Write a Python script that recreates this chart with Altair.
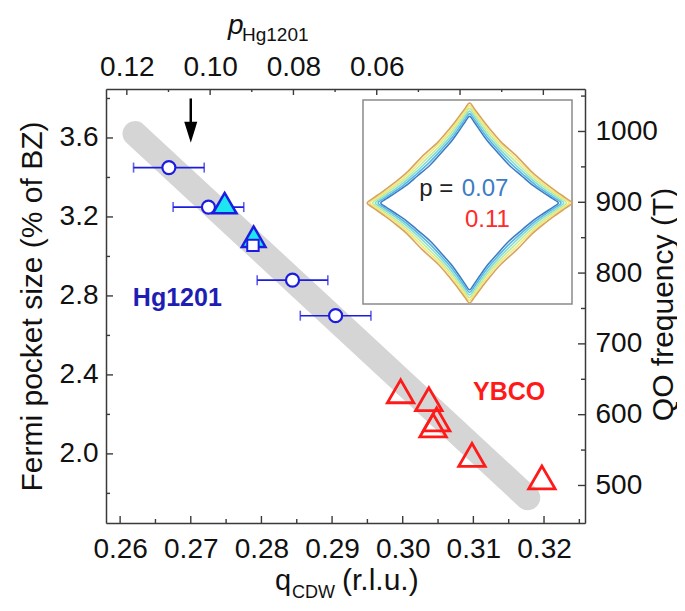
import altair as alt
import pandas as pd

# ---------------- data ----------------
hg_q = [0.2669, 0.2725, 0.2844, 0.2905]
hg_size = [3.45, 3.25, 2.88, 2.70]
hg_qerr = [0.005, 0.005, 0.005, 0.005]

hg_tri_q = [0.2748, 0.2789]
hg_tri_size = [3.27, 3.10]

hg_sq_q = [0.2788]
hg_sq_size = [3.056]

ybco_q = [0.2997, 0.3037, 0.3048, 0.3043, 0.3098, 0.3197]
ybco_size = [2.317, 2.277, 2.175, 2.144, 1.995, 1.881]

band_q = [0.2621, 0.3177]
band_size = [3.622, 1.778]

arrow_q = [0.27]
arrow_top = [3.80]
arrow_bottom = [3.665]
arrow_tip = [3.629]

q_major = [0.26, 0.27, 0.28, 0.29, 0.30, 0.31, 0.32]
q_minor = [0.265, 0.275, 0.285, 0.295, 0.305, 0.315, 0.325]
s_major = [2.0, 2.4, 2.8, 3.2, 3.6]
s_minor = [1.8, 2.2, 2.6, 3.0, 3.4, 3.8]
p_major = [0.12, 0.10, 0.08, 0.06, 0.04, 0.02]
p_minor = [0.11, 0.09, 0.07, 0.05, 0.03]
f_major = [500, 600, 700, 800, 900, 1000]
f_minor = [550, 650, 750, 850, 950, 1050]

q_domain = [0.2580, 0.3258]
size_domain = [1.650, 3.848]
p_domain = [0.010, 0.125]
freq_domain = [447, 1060]

# inset: Fermi-surface contours (upper-right half quadrant, tip -> diagonal)
curve_names = ["c1", "c2", "c3", "c4", "c5", "c6"]
curve_colors = ["#3d7cc4", "#58b4e3", "#80dcd6", "#bfeb9e", "#f1e86c", "#d9a35e"]
curve_u = [
    [0.0, 0.040, 0.100, 0.170, 0.260, 0.375],
    [0.0, 0.041, 0.102, 0.174, 0.268, 0.391],
    [0.0, 0.042, 0.104, 0.178, 0.276, 0.407],
    [0.0, 0.043, 0.106, 0.182, 0.284, 0.423],
    [0.0, 0.044, 0.108, 0.186, 0.292, 0.439],
    [0.0, 0.045, 0.110, 0.190, 0.300, 0.455],
]
curve_v = [
    [0.850, 0.800, 0.710, 0.610, 0.505, 0.375],
    [0.876, 0.825, 0.735, 0.634, 0.524, 0.391],
    [0.902, 0.850, 0.760, 0.658, 0.543, 0.407],
    [0.928, 0.875, 0.785, 0.682, 0.562, 0.423],
    [0.954, 0.900, 0.810, 0.706, 0.581, 0.439],
    [0.980, 0.925, 0.835, 0.730, 0.600, 0.455],
]
curve_center = [0.02, -0.01]

inset_box_u = [-1.0, 1.0]
inset_box_v = [-1.0, 1.0]
inset_u_domain = [-3.4593, 1.1244]
inset_v_domain = [-3.147, 1.1078]

# ---------------- styling ----------------
W, H = 479, 434
FONT = "Liberation Sans"
AX = "#3a3a3a"
TXT = "#111111"
BLUE = "#1c1ce0"
RED = "#ff1a1a"


def make_axis(orient, values, label_expr, pad, **kw):
    return alt.Axis(
        orient=orient, values=values, ticks=False, tickSize=0, grid=False,
        domain=True, domainColor=AX, domainWidth=1.5,
        labelExpr=label_expr, labelFont=FONT, labelFontSize=28, labelColor=TXT,
        labelPadding=pad, labelOverlap=False, labelFlush=False, labelBound=False,
        **kw,
    )


x_axis = make_axis("bottom", q_major, "format(datum.value, '.2f')", 12, title=None)
y_axis = make_axis("left", s_major, "format(datum.value, '.1f')", 8,
                   title="Fermi pocket size (% of BZ)", titleFont=FONT, titleFontSize=30,
                   titleFontWeight="normal", titleColor=TXT, titleAngle=270,
                   titleX=-74, titleY=217, titleAlign="center", titleBaseline="middle")
p_axis = make_axis("top", p_major,
                   "datum.value > 0.055 ? format(datum.value, '.2f') : ''", 8, title=None)
f_axis = make_axis("right", f_major, "format(datum.value, 'd')", 10,
                   title="QO frequency (T)", titleFont=FONT, titleFontSize=30,
                   titleFontWeight="normal", titleColor=TXT, titleAngle=270,
                   titleX=78, titleY=215, titleAlign="center", titleBaseline="middle")

QS = alt.Scale(domain=q_domain, nice=False, zero=False)
SS = alt.Scale(domain=size_domain, nice=False, zero=False)
X = alt.X("q:Q", scale=QS, axis=x_axis)
Y = alt.Y("s:Q", scale=SS, axis=y_axis)

# ---------------- main layer ----------------
band = alt.Chart(pd.DataFrame({"q": band_q, "s": band_size})).mark_line(
    color="#d5d5d5", strokeWidth=25, strokeCap="round").encode(x=X, y=Y)

err_df = pd.DataFrame({"q": hg_q, "s": hg_size, "e": hg_qerr})
err_df["lo"] = err_df["q"] - err_df["e"]
err_df["hi"] = err_df["q"] + err_df["e"]
err = alt.Chart(err_df).mark_rule(color=BLUE, strokeWidth=1.6).encode(
    x=alt.X("lo:Q", scale=QS, axis=x_axis), x2="hi:Q", y=Y)
caps_df = pd.DataFrame({"q": list(err_df["lo"]) + list(err_df["hi"]),
                        "s": hg_size + hg_size})
caps = alt.Chart(caps_df).mark_tick(color=BLUE, orient="vertical", size=10,
                                    thickness=1.6).encode(x=X, y=Y)

circles = alt.Chart(pd.DataFrame({"q": hg_q, "s": hg_size})).mark_point(
    shape="circle", filled=True, fill="white", stroke=BLUE, strokeWidth=2.2,
    size=170, opacity=1).encode(x=X, y=Y)
tris = alt.Chart(pd.DataFrame({"q": hg_tri_q, "s": hg_tri_size})).mark_point(
    shape="triangle-up", filled=True, fill="#1ee6f0", stroke=BLUE, strokeWidth=2.5,
    size=560, opacity=1).encode(x=X, y=Y)
square = alt.Chart(pd.DataFrame({"q": hg_sq_q, "s": hg_sq_size})).mark_point(
    shape="square", filled=True, fill="white", stroke=BLUE, strokeWidth=2,
    size=130, opacity=1).encode(x=X, y=Y)
ybco = alt.Chart(pd.DataFrame({"q": ybco_q, "s": ybco_size})).mark_point(
    shape="triangle-up", filled=False, stroke=RED, strokeWidth=2.8,
    size=700, opacity=1).encode(x=X, y=Y)

lab_df = pd.DataFrame({"q": [0.2618, 0.30995], "s": [2.791, 2.312],
                       "t": ["Hg1201", "YBCO"], "c": ["#1e1eb4", RED]})
labels = alt.Chart(lab_df).mark_text(
    align="left", baseline="middle", font=FONT, fontSize=25, fontWeight="bold").encode(
    x=X, y=Y, text="t:N", color=alt.Color("c:N", scale=None))

shaft = alt.Chart(pd.DataFrame({"q": arrow_q, "s": arrow_top, "s2": arrow_bottom})).mark_rule(
    color="black", strokeWidth=2.5).encode(x=X, y=Y, y2="s2:Q")
head = alt.Chart(pd.DataFrame({"q": arrow_q, "s": arrow_tip})).mark_point(
    shape="M-0.62,-1L0.62,-1L0,1Z", filled=True, color="black", size=441,
    opacity=1).encode(x=X, y=Y)

# inward tick marks (bottom / left)
bt_maj = alt.Chart(pd.DataFrame({"q": q_major})).mark_rule(color=AX, strokeWidth=1.4).encode(
    x=X, y=alt.value(H), y2=alt.value(H - 7))
bt_min = alt.Chart(pd.DataFrame({"q": q_minor})).mark_rule(color=AX, strokeWidth=1.4).encode(
    x=X, y=alt.value(H), y2=alt.value(H - 4))
lt_maj = alt.Chart(pd.DataFrame({"s": s_major})).mark_rule(color=AX, strokeWidth=1.4).encode(
    y=Y, x=alt.value(0), x2=alt.value(7))
lt_min = alt.Chart(pd.DataFrame({"s": s_minor})).mark_rule(color=AX, strokeWidth=1.4).encode(
    y=Y, x=alt.value(0), x2=alt.value(4))

one = pd.DataFrame({"k": [0]})


def free_text(txt, px, py, size, **kw):
    return alt.Chart(one).mark_text(
        text=txt, align="left", baseline="alphabetic", font=FONT, fontSize=size,
        color=TXT, **kw).encode(x=alt.value(px), y=alt.value(py))


xt1 = free_text("q", 169, 501, 29)
xt2 = free_text("CDW", 186, 509, 18)
xt3 = free_text("(r.l.u.)", 236, 501, 30)
pt1 = free_text("p", 122, -55, 28, fontStyle="italic")
pt2 = free_text("Hg1201", 136, -48, 19)

main = alt.layer(bt_maj, bt_min, lt_maj, lt_min, band, err, caps, circles, tris, square,
                 ybco, labels, shaft, head, xt1, xt2, xt3, pt1, pt2)

# ---------------- secondary axes (top p, right frequency) ----------------
PS = alt.Scale(domain=p_domain, reverse=True, nice=False, zero=False)
FS = alt.Scale(domain=freq_domain, nice=False, zero=False)
PX = alt.X("p:Q", scale=PS, axis=p_axis)
FY = alt.Y("f:Q", scale=FS, axis=f_axis)

sec_pts = alt.Chart(pd.DataFrame({"p": p_domain, "f": freq_domain})).mark_point(
    opacity=0).encode(x=PX, y=FY)
tt_maj = alt.Chart(pd.DataFrame({"p": p_major})).mark_rule(color=AX, strokeWidth=1.4).encode(
    x=PX, y=alt.value(0), y2=alt.value(6))
tt_min = alt.Chart(pd.DataFrame({"p": p_minor})).mark_rule(color=AX, strokeWidth=1.4).encode(
    x=PX, y=alt.value(0), y2=alt.value(3))
rt_maj = alt.Chart(pd.DataFrame({"f": f_major})).mark_rule(color=AX, strokeWidth=1.4).encode(
    y=FY, x=alt.value(W), x2=alt.value(W - 7))
rt_min = alt.Chart(pd.DataFrame({"f": f_minor})).mark_rule(color=AX, strokeWidth=1.4).encode(
    y=FY, x=alt.value(W), x2=alt.value(W - 4))
sec = alt.layer(sec_pts, tt_maj, tt_min, rt_maj, rt_min)

# ---------------- inset ----------------
IU = alt.Scale(domain=inset_u_domain, nice=False, zero=False)
IV = alt.Scale(domain=inset_v_domain, nice=False, zero=False)

rows = []
for name, us, vs in zip(curve_names, curve_u, curve_v):
    half = list(zip(us, vs))
    quad = half + [(b, a) for (a, b) in reversed(half[:-1])]  # top tip -> right tip
    loop = []
    loop += [(a, b) for (a, b) in quad]
    loop += [(a, -b) for (a, b) in reversed(quad[:-1])]
    loop += [(-a, -b) for (a, b) in quad[1:]]
    loop += [(-a, b) for (a, b) in reversed(quad[1:-1])]
    for i, (a, b) in enumerate(loop):
        rows.append({"curve": name, "i": i,
                     "u": a + curve_center[0], "v": b + curve_center[1]})
curve_df = pd.DataFrame(rows)

box = alt.Chart(pd.DataFrame({"u": [inset_box_u[0]], "u2": [inset_box_u[1]],
                              "v": [inset_box_v[0]], "v2": [inset_box_v[1]]})).mark_rect(
    fill="white", stroke="#8a8a8a", strokeWidth=1.5).encode(
    x=alt.X("u:Q", scale=IU, axis=None), x2="u2:Q",
    y=alt.Y("v:Q", scale=IV, axis=None), y2="v2:Q")

curves = alt.Chart(curve_df).mark_line(interpolate="cardinal-closed", strokeWidth=1.6).encode(
    x=alt.X("u:Q", scale=IU, axis=None),
    y=alt.Y("v:Q", scale=IV, axis=None),
    color=alt.Color("curve:N", scale=alt.Scale(domain=curve_names, range=curve_colors),
                    legend=None),
    order="i:Q",
)

itxt_df = pd.DataFrame({"u": [-0.136, -0.055, -0.024], "v": [0.127, 0.127, -0.176],
                        "t": ["p =", "0.07", "0.11"],
                        "a": ["right", "left", "left"],
                        "c": ["#222222", "#3d7cc4", "#ff2a2a"]})
itxt_r = alt.Chart(itxt_df[itxt_df["a"] == "right"]).mark_text(
    align="right", baseline="middle", font=FONT, fontSize=24).encode(
    x=alt.X("u:Q", scale=IU, axis=None), y=alt.Y("v:Q", scale=IV, axis=None),
    text="t:N", color=alt.Color("c:N", scale=None))
itxt_l = alt.Chart(itxt_df[itxt_df["a"] == "left"]).mark_text(
    align="left", baseline="middle", font=FONT, fontSize=24).encode(
    x=alt.X("u:Q", scale=IU, axis=None), y=alt.Y("v:Q", scale=IV, axis=None),
    text="t:N", color=alt.Color("c:N", scale=None))

inset = alt.layer(box, curves, itxt_r, itxt_l)

chart = alt.layer(main, sec, inset).resolve_scale(
    x="independent", y="independent", color="independent").properties(
    width=W, height=H,
    autosize=alt.AutoSizeParams(type="none"),
    padding={"left": 98, "top": 81, "right": 92, "bottom": 80},
).configure_view(stroke=None).configure(background="white")

chart.save("out.html", embed_options={"renderer": "svg", "actions": False})
